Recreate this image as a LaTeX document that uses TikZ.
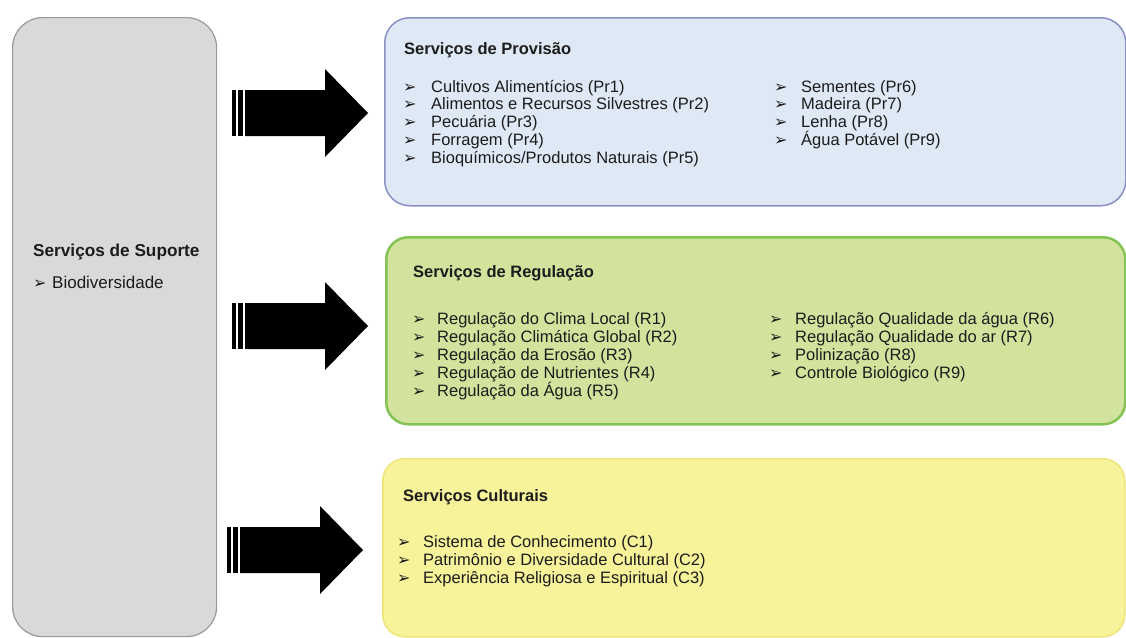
\documentclass[tikz,border=0pt]{standalone}
\usepackage{fontspec}
\setmainfont{Liberation Sans}
\newfontfamily\symfont{DejaVu Sans}
\definecolor{txt}{HTML}{1C1C1C}
\definecolor{grayfill}{HTML}{D9D9D9}
\definecolor{grayline}{HTML}{9A9A9A}
\definecolor{bluefill}{HTML}{DFE9F6}
\definecolor{blueline}{HTML}{8A8FC6}
\definecolor{greenfill}{HTML}{D2E39D}
\definecolor{greenline}{HTML}{84C454}
\definecolor{yellowfill}{HTML}{F7F39B}
\definecolor{yellowline}{HTML}{EFE676}
\newcommand\blockarrow[2]{%
  \fill[black] ({#1},{#2-23}) rectangle ({#1+3.5},{#2+23});
  \fill[black] ({#1+5.5},{#2-23}) rectangle ({#1+11},{#2+23});
  \fill[black] ({#1+13},{#2-23}) -- ({#1+93},{#2-23}) -- ({#1+93},{#2-44})
     -- ({#1+136},{#2}) -- ({#1+93},{#2+44}) -- ({#1+93},{#2+23})
     -- ({#1+13},{#2+23}) -- cycle;}
\begin{document}
\begin{tikzpicture}[x=1pt,y=-1pt,
  item/.style={anchor=base west, inner sep=0, font=\fontsize{16.5}{18}\selectfont, text=txt},
  head/.style={anchor=base west, inner sep=0, font=\fontsize{16.5}{18}\selectfont\bfseries, text=txt},
  bul/.style={anchor=base west, inner sep=0, font=\symfont\fontsize{16}{18}\selectfont, text=txt},
  box/.style={anchor=north west, inner sep=0, rounded corners=22pt}]
\useasboundingbox (0,0) rectangle (1126,637);
\fill[white] (0,0) rectangle (1126,637);

% boxes
\node[box, rounded corners=30pt, fill=grayfill, draw=grayline, line width=1.2pt,
      minimum width=204pt, minimum height=619pt] (sup) at (12,17) {};
\node[box, rounded corners=25pt, fill=bluefill, draw=blueline, line width=1.5pt,
      minimum width=741pt, minimum height=188pt] (prov) at (384,17) {};
\node[box, fill=greenfill, draw=greenline, line width=2.5pt,
      minimum width=739pt, minimum height=187pt] (reg) at (385,236) {};
\node[box, fill=yellowfill, draw=yellowline, line width=1.5pt,
      minimum width=742pt, minimum height=178pt] (cult) at (382,458) {};

% arrows
\blockarrow{232}{113}
\blockarrow{232}{326}
\blockarrow{227}{550}

% support
\node[head, font=\fontsize{17.2}{19}\selectfont\bfseries] (suph) at (33,256) {Serviços de Suporte};
\node[bul] (supb) at (33,288) {➢};
\node[item, font=\fontsize{17}{19}\selectfont] (supt) at (52,288) {Biodiversidade};

% provision
\node[head] (provh) at (404,54) {Serviços de Provisão};
\foreach \t [count=\i from 0] in {Cultivos Alimentícios (Pr1),
   Alimentos e Recursos Silvestres (Pr2), Pecuária (Pr3), Forragem (Pr4),
   Bioquímicos/Produtos Naturais (Pr5)}{
  \node[bul] (pb\i) at (403,{92+17.8*\i}) {➢};
  \node[item] (pt\i) at (431,{92+17.8*\i}) {\t};
}
\foreach \t [count=\i from 0] in {Sementes (Pr6), Madeira (Pr7), Lenha (Pr8), Água Potável (Pr9)}{
  \node[bul] (qb\i) at (774,{92+17.8*\i}) {➢};
  \node[item] (qt\i) at (801,{92+17.8*\i}) {\t};
}

% regulation
\node[head] (regh) at (413,277) {Serviços de Regulação};
\foreach \t [count=\i from 0] in {Regulação do Clima Local (R1),
   Regulação Climática Global (R2), Regulação da Erosão (R3),
   Regulação de Nutrientes (R4), Regulação da Água (R5)}{
  \node[bul] (rb\i) at (412,{324+18*\i}) {➢};
  \node[item] (rt\i) at (437,{324+18*\i}) {\t};
}
\foreach \t [count=\i from 0] in {Regulação Qualidade da água (R6),
   Regulação Qualidade do ar (R7), Polinização (R8), Controle Biológico (R9)}{
  \node[bul] (sb\i) at (769,{324+18*\i}) {➢};
  \node[item] (st\i) at (795,{324+18*\i}) {\t};
}

% cultural
\node[head] (culth) at (403,501) {Serviços Culturais};
\foreach \t [count=\i from 0] in {Sistema de Conhecimento (C1),
   Patrimônio e Diversidade Cultural (C2), Experiência Religiosa e Espiritual (C3)}{
  \node[bul] (cb\i) at (397,{547+18*\i}) {➢};
  \node[item] (ct\i) at (423,{547+18*\i}) {\t};
}
\end{tikzpicture}
\end{document}
